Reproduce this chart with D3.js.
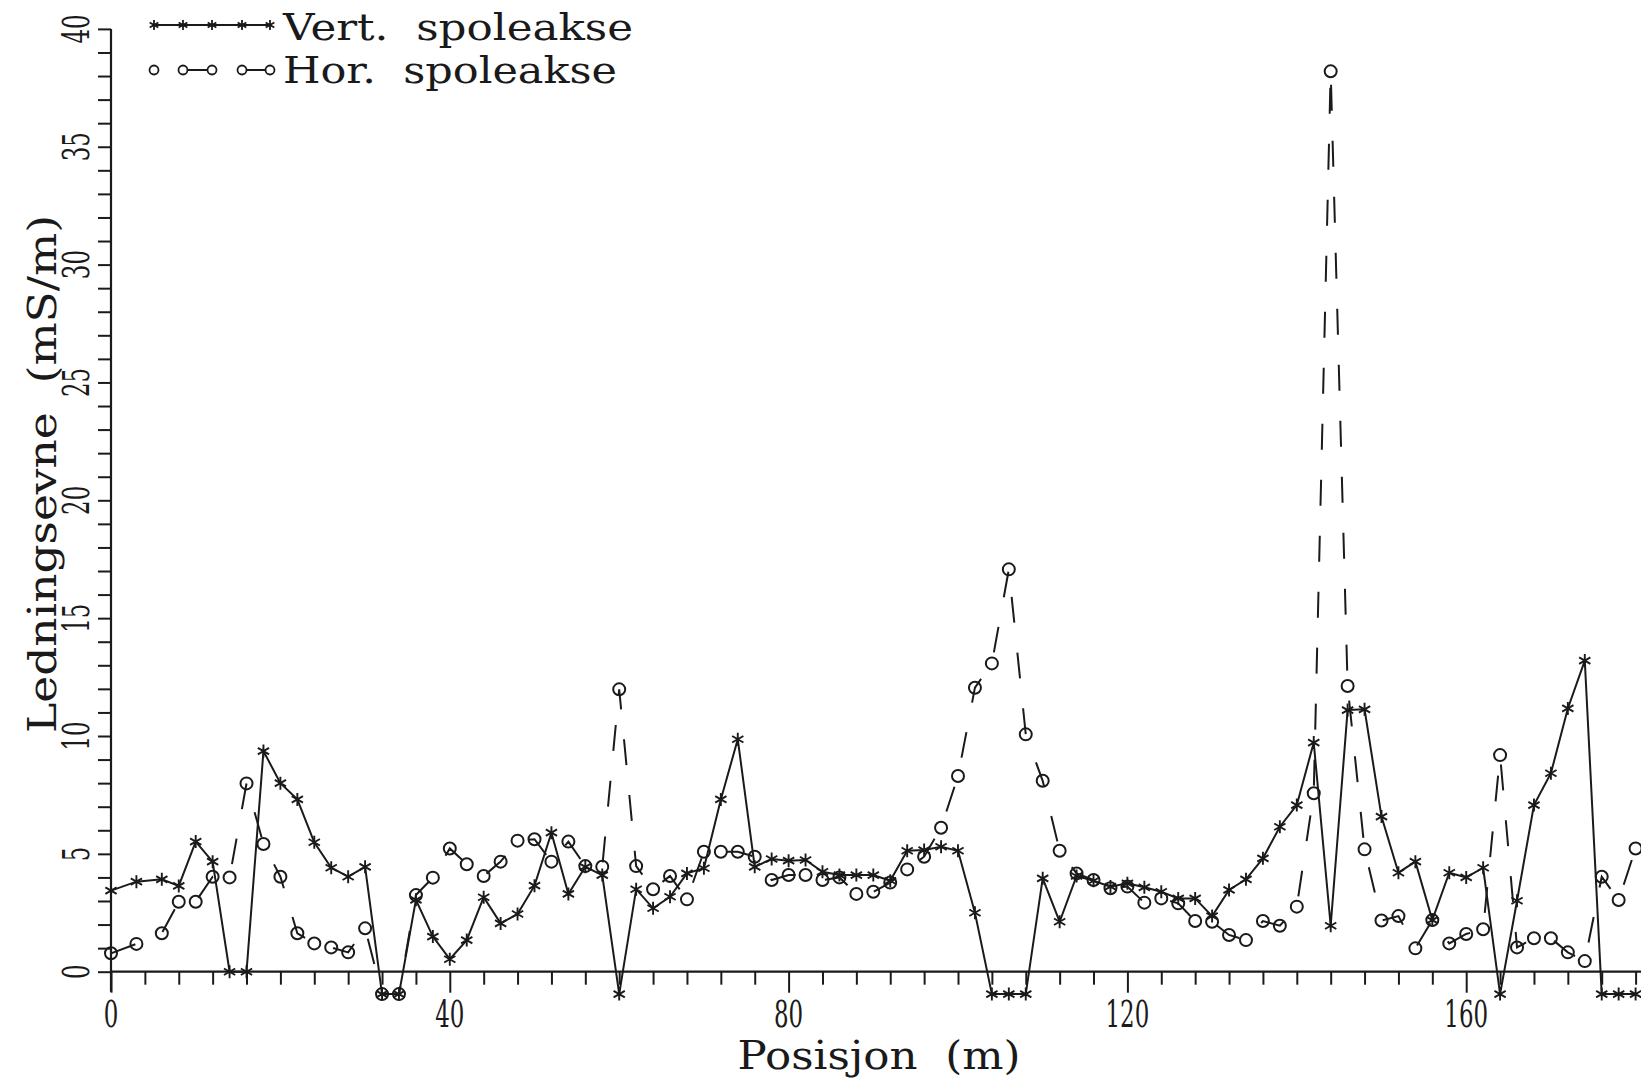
<!DOCTYPE html>
<html>
<head>
<meta charset="utf-8">
<script src="https://cdn.jsdelivr.net/npm/d3@7"></script>
<style>
  body { margin: 0; background: #fff; }
  svg { display: block; }
  text { font-family: "DejaVu Serif", serif; fill: #1a1a1a; }
</style>
</head>
<body>
<svg id="chart" width="1641" height="1081"></svg>
<script>
// posisjon (m) for each measurement
const posisjon = [0, 3, 6, 8, 10, 12, 14, 16, 18, 20, 22, 24, 26, 28, 30, 32, 34, 36, 38, 40,
  42, 44, 46, 48, 50, 52, 54, 56, 58, 60, 62, 64, 66, 68, 70, 72, 74, 76, 78, 80,
  82, 84, 86, 88, 90, 92, 94, 96, 98, 100, 102, 104, 106, 108, 110, 112, 114, 116, 118, 120,
  122, 124, 126, 128, 130, 132, 134, 136, 138, 140, 142, 144, 146, 148, 150, 152, 154, 156, 158, 160,
  162, 164, 166, 168, 170, 172, 174, 176, 178, 180];

// Vert. spoleakse (mS/m), values under the axis are off-scale readings
const vertValues = [3.44, 3.82, 3.92, 3.64, 5.52, 4.67, 0, 0, 9.36, 8.0, 7.31, 5.49, 4.41, 4.03, 4.45, -0.95, -0.95, 3.05, 1.49, 0.53,
  1.34, 3.16, 2.05, 2.45, 3.65, 5.9, 3.3, 4.45, 4.1, -0.95, 3.5, 2.69, 3.18, 4.17, 4.39, 7.31, 9.86, 4.45, 4.78, 4.71,
  4.74, 4.24, 4.1, 4.1, 4.1, 3.86, 5.13, 5.16, 5.3, 5.13, 2.5, -0.95, -0.95, -0.95, 3.96, 2.12, 4.06, 3.86, 3.61, 3.75,
  3.58, 3.39, 3.11, 3.11, 2.36, 3.47, 3.92, 4.81, 6.15, 7.07, 9.72, 1.95, 11.1, 11.13, 6.58, 4.2, 4.67, 2.19, 4.2, 4.0,
  4.41, -0.95, 3.01, 7.07, 8.42, 11.17, 13.2, -0.95, -0.95, -0.95];

// Hor. spoleakse (mS/m)
const horValues = [0.78, 1.18, 1.63, 2.97, 2.97, 4.03, 4.0, 7.99, 5.42, 4.03, 1.63, 1.2, 1.03, 0.82, 1.84, -0.95, -0.95, 3.25, 3.99, 5.23,
  4.56, 4.06, 4.67, 5.56, 5.62, 4.67, 5.52, 4.48, 4.45, 11.98, 4.48, 3.5, 4.06, 3.07, 5.09, 5.09, 5.09, 4.88, 3.89, 4.1,
  4.1, 3.89, 4.0, 3.3, 3.39, 3.78, 4.34, 4.88, 6.11, 8.3, 12.05, 13.08, 17.07, 10.07, 8.1, 5.13, 4.17, 3.89, 3.54, 3.61,
  2.93, 3.11, 2.9, 2.15, 2.12, 1.56, 1.34, 2.15, 1.95, 2.76, 7.57, 38.2, 12.12, 5.19, 2.17, 2.36, 0.99, 2.19, 1.2, 1.6,
  1.8, 9.19, 1.03, 1.42, 1.42, 0.82, 0.45, 4.03, 3.04, 5.23];

const xTicks = d3.range(0, 181, 4);
const xLabels = [0, 40, 80, 120, 160];
const yTicks = d3.range(0, 41, 1);
const yLabels = [0, 5, 10, 15, 20, 25, 30, 35, 40];

const legendItems = ["Vert.  spoleakse", "Hor.  spoleakse"];
const xTitle = "Posisjon  (m)";
const yTitle = "Ledningsevne  (mS/m)";

const W = 1641, H = 1081;
const ink = "#1a1a1a";

const svg = d3.select("#chart");
const x = d3.scaleLinear().domain([0, 180]).range([111, 1635.6]);
const y = d3.scaleLinear().domain([0, 40]).range([971.7, 28.9]);

let vert = posisjon.map((p, i) => ({ p, v: vertValues[i] }));
let hor = posisjon.map((p, i) => ({ p, v: horValues[i] }));

// asterisk marker
let star = r => {
  let c = r * Math.cos(Math.PI / 6), s = r * Math.sin(Math.PI / 6);
  return `M0,${-r}L0,${r}M${-c},${-s}L${c},${s}M${-c},${s}L${c},${-s}`;
};

// ---- axes
let gx = svg.append("g").attr("transform", `translate(0,${y(0)})`)
  .call(d3.axisBottom(x).tickValues(xTicks).tickSize(13).tickSizeOuter(0).tickFormat(""));
gx.select(".domain").remove();
gx.selectAll(".tick line")
  .attr("y2", d => d % 40 === 0 ? 21 : 13)
  .attr("stroke", ink).attr("stroke-width", 2);
gx.append("line").attr("x1", x(0)).attr("x2", W).attr("stroke", ink).attr("stroke-width", 2.2);

let gy = svg.append("g").attr("transform", `translate(${x(0)},0)`)
  .call(d3.axisLeft(y).tickValues(yTicks).tickSize(13).tickSizeOuter(0).tickFormat(""));
gy.select(".domain").remove();
gy.selectAll(".tick line").attr("stroke", ink).attr("stroke-width", 2);
gy.append("line").attr("y1", y(40)).attr("y2", y(0) + 20).attr("stroke", ink).attr("stroke-width", 2.2);

// condensed tick labels
svg.append("g").selectAll("g").data(xLabels).join("g")
  .attr("transform", d => `translate(${x(d)},1027)`)
  .append("text")
    .attr("text-anchor", "middle")
    .attr("transform", "scale(0.62,1)")
    .style("font-size", "37px")
    .text(d => d);

svg.append("g").selectAll("g").data(yLabels).join("g")
  .attr("transform", d => `translate(89,${y(d)}) rotate(-90)`)
  .append("text")
    .attr("text-anchor", "middle")
    .attr("transform", "scale(0.62,1)")
    .style("font-size", "37px")
    .text(d => d);

// titles
svg.append("text")
  .attr("x", 879).attr("y", 1069)
  .attr("text-anchor", "middle")
  .attr("textLength", 283).attr("lengthAdjust", "spacingAndGlyphs")
  .style("font-size", "40px").style("white-space", "pre")
  .text(xTitle);

svg.append("text")
  .attr("transform", "translate(56,474) rotate(-90)")
  .attr("text-anchor", "middle")
  .attr("textLength", 518).attr("lengthAdjust", "spacingAndGlyphs")
  .style("font-size", "40px").style("white-space", "pre")
  .text(yTitle);

// ---- Hor. spoleakse: dashed line, open circles
svg.append("path")
  .datum(hor)
  .attr("d", d3.line().x(d => x(d.p)).y(d => y(d.v)))
  .attr("fill", "none").attr("stroke", ink).attr("stroke-width", 2)
  .attr("stroke-dasharray", "26 30");

svg.append("g").selectAll("circle").data(hor).join("circle")
  .attr("cx", d => x(d.p)).attr("cy", d => y(d.v)).attr("r", 6)
  .attr("fill", "none").attr("stroke", ink).attr("stroke-width", 2);

// ---- Vert. spoleakse: solid line, asterisks
svg.append("path")
  .datum(vert)
  .attr("d", d3.line().x(d => x(d.p)).y(d => y(d.v)))
  .attr("fill", "none").attr("stroke", ink).attr("stroke-width", 2);

svg.append("g").selectAll("path").data(vert).join("path")
  .attr("transform", d => `translate(${x(d.p)},${y(d.v)})`)
  .attr("d", star(6.5))
  .attr("fill", "none").attr("stroke", ink).attr("stroke-width", 1.9);

// ---- legend
const legX = [154, 183, 212, 242, 270];
let leg = svg.append("g");
leg.append("line").attr("x1", legX[0]).attr("x2", legX[4]).attr("y1", 25).attr("y2", 25)
  .attr("stroke", ink).attr("stroke-width", 2);
leg.selectAll("path.s").data(legX).join("path").attr("class", "s")
  .attr("transform", d => `translate(${d},25)`)
  .attr("d", star(5)).attr("fill", "none").attr("stroke", ink).attr("stroke-width", 1.8);
leg.selectAll("line.h").data([[1, 2], [3, 4]]).join("line").attr("class", "h")
  .attr("x1", d => legX[d[0]]).attr("x2", d => legX[d[1]]).attr("y1", 70).attr("y2", 70)
  .attr("stroke", ink).attr("stroke-width", 2);
leg.selectAll("circle").data(legX).join("circle")
  .attr("cx", d => d).attr("cy", 70).attr("r", 4.5)
  .attr("fill", "#fff").attr("stroke", ink).attr("stroke-width", 1.8);

leg.selectAll("text").data(legendItems).join("text")
  .attr("x", 283).attr("y", (d, i) => i === 0 ? 40 : 83)
  .attr("textLength", (d, i) => i === 0 ? 350 : 334).attr("lengthAdjust", "spacingAndGlyphs")
  .style("font-size", "38px").style("white-space", "pre")
  .text(d => d);
</script>
</body>
</html>
